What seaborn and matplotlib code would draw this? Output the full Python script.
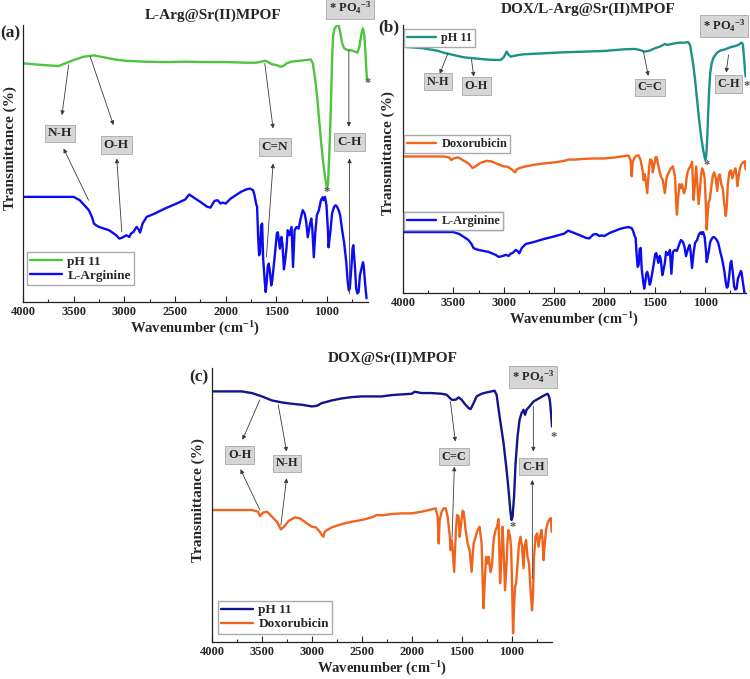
import numpy as np
import pandas as pd
import seaborn as sns
import matplotlib.pyplot as plt
from matplotlib.lines import Line2D

#
# DATA (arbitrary transmittance units)
#

# L-Arginine, in panel (a) units
ARG_WN = [4000, 3700, 3500, 3440, 3380, 3350, 3320, 3300, 3280, 3250, 3150, 3080, 3050, 3020,
          2980, 2950, 2935, 2910, 2880, 2860, 2845, 2820, 2780, 2700, 2600, 2500, 2400, 2360,
          2340, 2300, 2250, 2180, 2150, 2110, 2080, 2050, 2030, 2000, 1950, 1900, 1850, 1800,
          1760, 1730, 1715, 1700, 1690, 1680, 1670, 1660, 1650, 1640, 1630, 1615, 1605, 1595,
          1585, 1575, 1565, 1550, 1540, 1530, 1515, 1495, 1485, 1465, 1450, 1440, 1425, 1415,
          1400, 1388, 1370, 1350, 1335, 1320, 1300, 1280, 1260, 1240, 1220, 1205, 1190, 1170,
          1155, 1145, 1130, 1115, 1100, 1080, 1060, 1043, 1035, 1020, 1005, 990, 985, 965,
          950, 930, 915, 900, 885, 870, 850, 830, 810, 795, 785, 775, 760, 748, 740, 725,
          712, 700, 688, 675, 660, 645, 638, 625, 610]
ARG_T = [315, 315, 315, 305, 285, 275, 255, 235, 230, 225, 215, 200, 190, 193,
         200, 195, 205, 210, 225, 218, 208, 235, 255, 265, 280, 293, 307, 322,
         318, 310, 300, 285, 283, 303, 305, 295, 298, 295, 310, 320, 330, 337,
         340, 335, 320, 295, 285, 200, 140, 150, 230, 235, 130, 65, 30, 60,
         105, 115, 95, 50, 65, 95, 140, 205, 209, 160, 195, 175, 98, 120,
         160, 215, 200, 225, 105, 215, 225, 220, 250, 275, 265, 240, 194, 230,
         250, 220, 134, 210, 260, 275, 305, 314, 305, 315, 290, 210, 164, 215,
         265, 285, 290, 285, 275, 260, 215, 175, 120, 60, 35, 40, 100, 160, 170, 110,
         40, 26, 30, 80, 100, 119, 110, 60, 11]

# Doxorubicin, in panel (c) units
DOX_WN = [4000, 3600, 3540, 3520, 3490, 3450, 3400, 3350, 3310, 3280, 3230, 3170, 3120, 3050,
          3000, 2960, 2920, 2900, 2885, 2870, 2850, 2800, 2700, 2600, 2500, 2400, 2350, 2300,
          2200, 2100, 2000, 1900, 1800, 1760, 1740, 1730, 1720, 1700, 1680, 1660, 1640, 1620,
          1610, 1600, 1590, 1575, 1565, 1555, 1545, 1530, 1520, 1505, 1490, 1480, 1460, 1440,
          1420, 1400, 1390, 1380, 1360, 1340, 1320, 1300, 1285, 1280, 1270, 1255, 1240, 1230,
          1210, 1194, 1185, 1175, 1160, 1145, 1130, 1115, 1105, 1090, 1080, 1065, 1050, 1040,
          1030, 1015, 1005, 995, 985, 975, 965, 955, 945, 935, 925, 910, 895, 880,
          870, 855, 840, 825, 810, 795, 785, 775, 760, 745, 730, 715, 700, 690,
          680, 670, 655, 640, 625, 607, 598]
DOX_T = [395, 395, 390, 377, 387, 390, 375, 360, 337, 345, 363, 373, 370, 355,
         345, 343, 330, 320, 315, 330, 335, 343, 353, 360, 365, 373, 380, 379,
         383, 385, 385, 390, 397, 400, 375, 295, 365, 390, 400, 400, 375, 320,
         275, 305, 275, 210, 285, 345, 380, 375, 315, 355, 393, 390, 335, 295,
         275, 210, 255, 295, 315, 335, 345, 295, 135, 101, 175, 255, 235, 255,
         209, 235, 285, 315, 335, 345, 368, 176, 235, 345, 275, 155, 235, 305,
         335, 315, 285, 175, 26, 105, 165, 175, 215, 255, 295, 315, 285, 221,
         285, 305, 255, 235, 155, 95, 145, 255, 315, 325, 285, 315, 335, 305,
         245, 285, 335, 355, 365, 371, 330]

# pH 11 spectra
PH_A_WN = [4000, 3800, 3650, 3600, 3500, 3400, 3300, 3200, 3100, 3000, 2800, 2600, 2400, 2200,
           2000, 1800, 1700, 1650, 1610, 1580, 1550, 1500, 1460, 1430, 1400, 1350, 1300, 1200,
           1160, 1140, 1120, 1100, 1080, 1060, 1040, 1020, 1000, 990, 980, 970, 960, 950,
           940, 925, 910, 890, 870, 850, 830, 800, 780, 750, 720, 700, 680, 660,
           645, 630, 620, 610, 603]
PH_A_T = [715, 710, 707, 713, 725, 735, 739, 733, 727, 723, 720, 719, 720, 719,
          719, 717, 717, 720, 723, 719, 713, 710, 705, 707, 715, 720, 722, 725,
          727, 715, 675, 625, 555, 485, 425, 375, 340, 355, 425, 505, 605, 725,
          795, 820, 825, 835, 810, 775, 760, 755, 755, 753, 750, 747, 765, 805,
          820, 795, 745, 685, 665]

PH_B_WN = [4000, 3800, 3700, 3650, 3600, 3500, 3400, 3300, 3200, 3100, 3030, 3000, 2970, 2950,
           2930, 2900, 2850, 2800, 2600, 2400, 2200, 2000, 1800, 1700, 1650, 1600, 1550, 1500,
           1450, 1400, 1380, 1350, 1300, 1250, 1200, 1170, 1150, 1120, 1100, 1080, 1060, 1040,
           1020, 1000, 990, 980, 970, 960, 950, 935, 920, 900, 880, 850, 800, 750,
           700, 670, 650, 635, 625, 615, 605, 598]
PH_B_T = [740, 735, 730, 727, 722, 715, 708, 705, 702, 700, 700, 708, 725, 715,
          710, 712, 715, 717, 720, 723, 725, 727, 732, 733, 730, 725, 728, 735,
          740, 748, 745, 747, 750, 752, 752, 754, 745, 690, 640, 580, 520, 470,
          430, 400, 410, 460, 540, 610, 660, 690, 705, 715, 722, 728, 732, 738,
          742, 745, 750, 752, 745, 710, 670, 650]

PH_C_WN = [4000, 3800, 3700, 3600, 3500, 3400, 3300, 3200, 3100, 3000, 2950, 2900, 2800, 2700,
           2600, 2500, 2400, 2300, 2250, 2200, 2100, 2000, 1970, 1900, 1800, 1700, 1650, 1600,
           1560, 1530, 1500, 1470, 1430, 1410, 1380, 1350, 1300, 1250, 1200, 1170, 1150, 1120,
           1080, 1050, 1030, 1010, 1000, 990, 975, 960, 940, 920, 900, 880, 865, 850,
           820, 780, 720, 680, 660, 640, 625, 615, 605, 595]
PH_C_T = [750, 750, 750, 745, 735, 723, 717, 713, 710, 705, 707, 715, 723, 729,
          733, 735, 735, 735, 737, 739, 741, 743, 749, 745, 745, 743, 740, 725,
          725, 732, 725, 713, 700, 697, 715, 735, 743, 747, 750, 752, 740, 675,
          595, 515, 455, 385, 365, 375, 435, 535, 615, 665, 685, 695, 680, 695,
          705, 720, 730, 737, 740, 743, 735, 720, 685, 645]

#
# GLOBAL
#

sns.set_theme(style="ticks")
plt.rcParams["font.family"] = ["Liberation Serif", "DejaVu Serif"]
plt.rcParams["font.weight"] = "bold"
plt.rcParams["mathtext.fontset"] = "custom"
plt.rcParams["mathtext.rm"] = "Liberation Serif:bold"
plt.rcParams["mathtext.it"] = "Liberation Serif:bold"
plt.rcParams["mathtext.bf"] = "Liberation Serif:bold"
plt.rcParams["mathtext.default"] = "rm"

GREEN = "#4ec43f"
BLUE = "#0c0cf0"
TEAL = "#1e9185"
ORANGE = "#f0641c"
NAVY = "#14148c"
ARROW = dict(arrowstyle="-|>", color="#3a3a3a", lw=0.6, mutation_scale=6, shrinkA=0, shrinkB=0)
BOX = dict(boxstyle="square,pad=0.22", fc="#d6d6d6", ec="#a8a8a8", lw=0.6)
LW = 1.7
LEG = dict(fancybox=False, edgecolor="#aaaaaa", framealpha=1, borderaxespad=0,
           handlelength=2.4, borderpad=0.25, handletextpad=0.4, labelspacing=0.15)


def style_axis(ax, top):
    ax.set_xlim(4000, 595)
    ax.set_ylim(0, top)
    ax.set_yticks([])
    ax.set_xticks(np.arange(4000, 999, -500))
    ax.set_xticks(np.arange(3750, 600, -500), minor=True)
    ax.tick_params(axis="x", which="major", direction="in", length=4, width=0.8, labelsize=9, pad=3)
    ax.tick_params(axis="x", which="minor", direction="in", length=2.5, width=0.8)
    for s in ["top", "right"]:
        ax.spines[s].set_visible(False)
    for s in ["left", "bottom"]:
        ax.spines[s].set_color("#222222")
        ax.spines[s].set_linewidth(0.9)
    for lab in ax.get_xticklabels():
        lab.set_fontweight("bold")
    ax.set_xlabel("Wavenumber (cm$^{-1}$)", fontsize=10.5, fontweight="bold", labelpad=1)
    ax.set_ylabel("")


def label(ax, x, y, txt, size=8.8):
    ax.text(x, y, txt, ha="center", va="center", fontsize=size, fontweight="bold", bbox=BOX,
            clip_on=False, zorder=5)


def arrow(ax, tail, head):
    ax.annotate("", xy=head, xytext=tail, arrowprops=ARROW, zorder=4)


def star(ax, x, y):
    ax.text(x, y, "*", ha="center", va="center", fontsize=9, color="#555555", clip_on=False)


def curve(ax, wn, t, color, scale=1.0, shift=0.0):
    df = pd.DataFrame({"wn": wn, "t": np.array(t) * scale + shift})
    sns.lineplot(data=df, x="wn", y="t", ax=ax, color=color, lw=LW, sort=False)


fig = plt.figure(figsize=(7.5, 6.79), dpi=100)
ax_a = fig.add_axes([0.0307, 0.5552, 0.46, 0.408])
ax_b = fig.add_axes([0.5373, 0.5685, 0.4573, 0.3947])
ax_c = fig.add_axes([0.2827, 0.0545, 0.4533, 0.4035])

#
# (a) L-Arg@Sr(II)MPOF
#

curve(ax_a, PH_A_WN, PH_A_T, GREEN)
curve(ax_a, ARG_WN, ARG_T, BLUE)
style_axis(ax_a, 830)
ax_a.legend([Line2D([], [], color=GREEN, lw=LW), Line2D([], [], color=BLUE, lw=LW)],
            ["pH 11", "L-Arginine"], loc="lower left", bbox_to_anchor=(0.012, 0.06),
            prop={"weight": "bold", "size": 9.5}, **LEG)

label(ax_a, 3639, 505, "N-H", 9.5)
arrow(ax_a, (3550, 710), (3616, 560))
arrow(ax_a, (3353, 305), (3600, 460))
label(ax_a, 3081, 470, "O-H", 9.5)
arrow(ax_a, (3337, 735), (3107, 530))
arrow(ax_a, (3025, 210), (3075, 430))
label(ax_a, 1516, 465, "C=N", 9.5)
arrow(ax_a, (1614, 715), (1532, 520))
arrow(ax_a, (1598, 135), (1532, 415))
label(ax_a, 777, 480, "C-H", 9.5)
arrow(ax_a, (784, 755), (784, 525))
arrow(ax_a, (777, 25), (777, 430))
label(ax_a, 770, 880, "* PO$_4$$^{-3}$", size=9)
star(ax_a, 597, 655)
star(ax_a, 1000, 330)

#
# (b) DOX/L-Arg@Sr(II)MPOF
#

curve(ax_b, PH_B_WN, PH_B_T, TEAL)
curve(ax_b, DOX_WN, DOX_T, ORANGE, scale=0.595, shift=175)
curve(ax_b, ARG_WN, ARG_T, BLUE, scale=0.597, shift=-5)
style_axis(ax_b, 805)
for col, name, ytop in [(TEAL, "pH 11", 0.985), (ORANGE, "Doxorubicin", 0.59), (BLUE, "L-Arginine", 0.302)]:
    leg = ax_b.legend([Line2D([], [], color=col, lw=LW)], [name], loc="upper left",
                      bbox_to_anchor=(0.003, ytop), prop={"weight": "bold", "size": 8.8}, **LEG)
    ax_b.add_artist(leg)

label(ax_b, 3652, 635, "N-H")
arrow(ax_b, (3553, 720), (3635, 658))
label(ax_b, 3271, 622, "O-H")
arrow(ax_b, (3320, 702), (3297, 650))
label(ax_b, 1547, 618, "C=C")
arrow(ax_b, (1613, 725), (1564, 652))
label(ax_b, 768, 628, "C-H")
arrow(ax_b, (768, 715), (791, 662))
label(ax_b, 811, 802, "* PO$_4$$^{-3}$", size=9)
star(ax_b, 590, 622)
star(ax_b, 990, 383)

#
# (c) DOX@Sr(II)MPOF
#

curve(ax_c, PH_C_WN, PH_C_T, NAVY)
curve(ax_c, DOX_WN, DOX_T, ORANGE)
style_axis(ax_c, 820)
ax_c.legend([Line2D([], [], color=NAVY, lw=LW), Line2D([], [], color=ORANGE, lw=LW)],
            ["pH 11", "Doxorubicin"], loc="lower left", bbox_to_anchor=(0.018, 0.03),
            prop={"weight": "bold", "size": 9.5}, **LEG)

label(ax_c, 3722, 560, "O-H")
arrow(ax_c, (3521, 725), (3695, 605))
arrow(ax_c, (3521, 395), (3715, 517))
label(ax_c, 3247, 535, "N-H")
arrow(ax_c, (3337, 710), (3253, 570))
arrow(ax_c, (3310, 350), (3253, 490))
label(ax_c, 1579, 555, "C=C")
arrow(ax_c, (1613, 720), (1563, 600))
arrow(ax_c, (1596, 310), (1573, 525))
label(ax_c, 782, 525, "C-H")
arrow(ax_c, (782, 705), (782, 570))
arrow(ax_c, (792, 190), (792, 485))
label(ax_c, 786, 793, "* PO$_4$$^{-3}$", size=9)
star(ax_c, 581, 615)
star(ax_c, 987, 345)

#
# titles and shared labels
#

H = 679.0
fig.text(213 / 750, 1 - 15 / H, "L-Arg@Sr(II)MPOF", ha="center", va="center", fontsize=11, fontweight="bold")
fig.text(588 / 750, 1 - 9 / H, "DOX/L-Arg@Sr(II)MPOF", ha="center", va="center", fontsize=11, fontweight="bold")
fig.text(393 / 750, 1 - 358 / H, "DOX@Sr(II)MPOF", ha="center", va="center", fontsize=11, fontweight="bold")
fig.text(10 / 750, 1 - 33 / H, "(a)", ha="center", va="center", fontsize=12.5, fontweight="bold")
fig.text(389 / 750, 1 - 27 / H, "(b)", ha="center", va="center", fontsize=12.5, fontweight="bold")
fig.text(199 / 750, 1 - 377 / H, "(c)", ha="center", va="center", fontsize=12.5, fontweight="bold")
fig.text(10 / 750, 1 - 148 / H, "Transmittance (%)", rotation=90, ha="center", va="center", fontsize=11, fontweight="bold")
fig.text(388 / 750, 1 - 153 / H, "Transmittance (%)", rotation=90, ha="center", va="center", fontsize=11, fontweight="bold")
fig.text(198 / 750, 1 - 500 / H, "Transmittance (%)", rotation=90, ha="center", va="center", fontsize=11, fontweight="bold")

fig.savefig("out.png", dpi=100)
